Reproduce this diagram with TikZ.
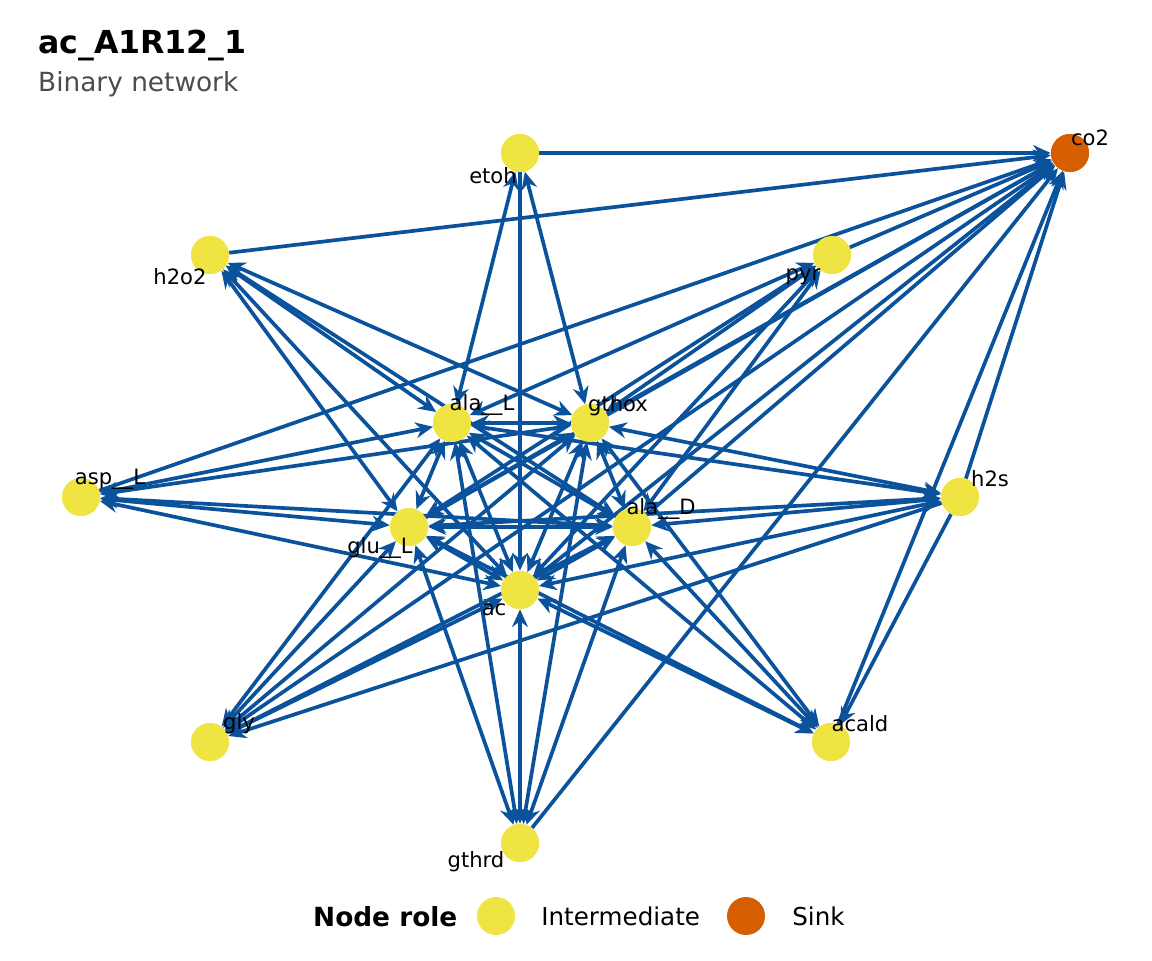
\documentclass[tikz,border=0pt]{standalone}
\usepackage{fontspec}
\setmainfont{DejaVu Sans}
\usetikzlibrary{arrows.meta}
\definecolor{edgeblue}{HTML}{0B529C}
\definecolor{midyellow}{HTML}{F0E442}
\definecolor{sinkorange}{HTML}{D55E00}
\tikzset{
  met/.style={circle, fill=midyellow, minimum size=0.76cm, inner sep=0pt},
  sink/.style={circle, fill=sinkorange, minimum size=0.76cm, inner sep=0pt},
  lab/.style={font=\fontsize{12}{14}\selectfont, inner sep=0pt},
  tip/.style={Stealth[length=10pt,width=9pt]},
  edge/.style={draw=edgeblue, line width=2.1pt, -{Stealth[length=10pt,width=9pt]}},
  both/.style={edge, {Stealth[length=10pt,width=9pt]}-{Stealth[length=10pt,width=9pt]}},
}
\begin{document}
\begin{tikzpicture}[x=0.02cm, y=-0.02cm]
  \useasboundingbox (0,0) rectangle (1152,960);
  % title
  \node [anchor=west, font=\bfseries\fontsize{18}{21}\selectfont] at (32,45) {ac\_A1R12\_1};
  \node [anchor=west, text=black!70, font=\fontsize{15}{18}\selectfont] at (32,84) {Binary network};

  % nodes
  \node [met] (etoh) at (520,153) {};
  \node [sink] (co2) at (1070,153) {};
  \node [met] (h2o2) at (210,255) {};
  \node [met] (pyr) at (832,255) {};
  \node [met] (alaL) at (452,423) {};
  \node [met] (gthox) at (590,423) {};
  \node [met] (aspL) at (81,497) {};
  \node [met] (h2s) at (960,497) {};
  \node [met] (gluL) at (409,527) {};
  \node [met] (alaD) at (632,527) {};
  \node [met] (ac) at (520,590) {};
  \node [met] (gly) at (210,742) {};
  \node [met] (acald) at (831,742) {};
  \node [met] (gthrd) at (520,843) {};

  % edges to the sink
  \foreach \s in {etoh, h2o2, pyr, aspL, gthox, gluL, gly, ac, alaD, gthrd, h2s, acald}
    \draw [edge] (\s) -- (co2);
  % hub to hub
  \foreach \a/\b in {alaL/gthox, alaL/gluL, alaL/alaD, alaL/ac, gthox/gluL, gthox/alaD, gthox/ac, gluL/alaD, gluL/ac, alaD/ac}
    \draw [both] (\a) -- (\b);
  % hubs to outer nodes
  \foreach \h in {alaL, gthox, gluL, alaD, ac}
    \foreach \o in {h2o2, pyr, aspL, h2s, gly, acald, gthrd}
      \draw [both] (\h) -- (\o);
  \draw [both] (etoh) -- (alaL);
  \draw [both] (etoh) -- (gthox);
  \draw [edge] (etoh) -- (ac);
  \draw [edge] (h2s) -- (acald);
  \draw [edge] (h2s) -- (gly);

  % redraw nodes on top
  \foreach \n in {etoh, h2o2, pyr, alaL, gthox, aspL, h2s, gluL, alaD, ac, gly, acald, gthrd}
    \fill [midyellow] (\n) circle (19);
  \fill [sinkorange] (co2) circle (19);

  % labels
  \node [lab] at (493,176) {etoh};
  \node [lab] at (1090,138) {co2};
  \node [lab] at (180,277) {h2o2};
  \node [lab] at (803,277) {pyr};
  \node [lab] at (482,405) {ala\_\_L};
  \node [lab] at (618,406) {gthox};
  \node [lab] at (110,479) {asp\_\_L};
  \node [lab] at (990,479) {h2s};
  \node [lab] at (380,548) {glu\_\_L};
  \node [lab] at (661,509) {ala\_\_D};
  \node [lab] at (494,610) {ac};
  \node [lab] at (239,724) {gly};
  \node [lab] at (860,724) {acald};
  \node [lab] at (476,862) {gthrd};

  % legend
  \node [anchor=west, font=\bfseries\fontsize{15}{18}\selectfont] (legtitle) at (307,917) {Node role};
  \node [met] (legmid) at (496,916) {};
  \node [anchor=west, font=\fontsize{14}{17}\selectfont, inner sep=0pt] at (541,916) {Intermediate};
  \node [sink] (legsink) at (746,916) {};
  \node [anchor=west, font=\fontsize{14}{17}\selectfont, inner sep=0pt] at (792,916) {Sink};
\end{tikzpicture}
\end{document}
